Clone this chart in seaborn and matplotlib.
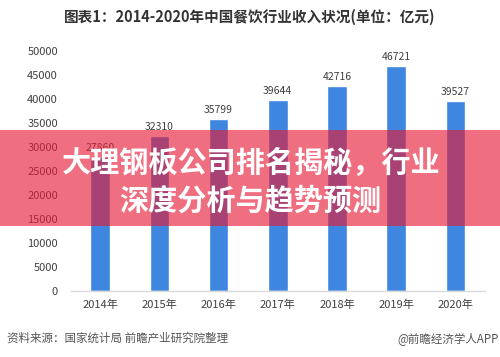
import matplotlib
matplotlib.use("Agg")
import matplotlib.pyplot as plt
import seaborn as sns
import pandas as pd
from matplotlib.patches import Rectangle

years = ["2014年", "2015年", "2016年", "2017年", "2018年", "2019年", "2020年"]
revenue = [27860, 32310, 35799, 39644, 42716, 46721, 39527]
y_ticks = [0, 5000, 10000, 15000, 20000, 25000, 30000, 35000, 40000, 45000, 50000]

title = "图表1：2014-2020年中国餐饮行业收入状况(单位：亿元)"
source = "资料来源：国家统计局 前瞻产业研究院整理"
credit = "@前瞻经济学人APP"
banner_lines = ["大理钢板公司排名揭秘，行业", "深度分析与趋势预测"]

sns.set_theme(style="white")
plt.rcParams["font.family"] = ["Noto Sans CJK SC", "DejaVu Sans"]

df = pd.DataFrame({"year": years, "revenue": revenue})

fig = plt.figure(figsize=(5.0, 3.57), dpi=100)
ax = fig.add_axes([0.141, 0.185, 0.829, 0.673])

sns.barplot(data=df, x="year", y="revenue", color="#3F86E0", saturation=1,
            width=0.33, ax=ax)

for c in ax.containers:
    ax.bar_label(c, labels=[str(v) for v in revenue], fontsize=7.5,
                 color="#404040", padding=3)

ax.set_ylim(0, 50000)
ax.set_yticks(y_ticks)
ax.set_yticklabels([str(t) for t in y_ticks])
ax.set_xlabel("")
ax.set_ylabel("")
ax.tick_params(axis="y", length=0, pad=9, labelsize=8, labelcolor="#404040")
ax.tick_params(axis="x", length=0, pad=6, labelsize=8, labelcolor="#404040")
for s in ["left", "right", "top"]:
    ax.spines[s].set_visible(False)
ax.spines["bottom"].set_color("#D9D9D9")
ax.spines["bottom"].set_linewidth(1)

fig.text(0.5, 0.952, title, ha="center", va="center", fontsize=10.5,
         fontweight="bold", color="#333333")
fig.text(0.014, 0.052, source, ha="left", va="center", fontsize=8.3,
         color="#555555")
fig.text(0.998, 0.052, credit, ha="right", va="center", fontsize=8.3,
         color="#555555")

# overlay banner
fig.add_artist(Rectangle((0, 0.367), 1, 0.269, transform=fig.transFigure,
                         facecolor=(231/255, 27/255, 55/255), alpha=0.63,
                         edgecolor="none", zorder=10))
fig.text(0.503, 0.543, banner_lines[0], ha="center", va="center",
         fontsize=21, fontweight="heavy", color="white", zorder=11)
fig.text(0.5, 0.437, banner_lines[1], ha="center", va="center",
         fontsize=21, fontweight="heavy", color="white", zorder=11)

fig.savefig("out.png", dpi=100)
